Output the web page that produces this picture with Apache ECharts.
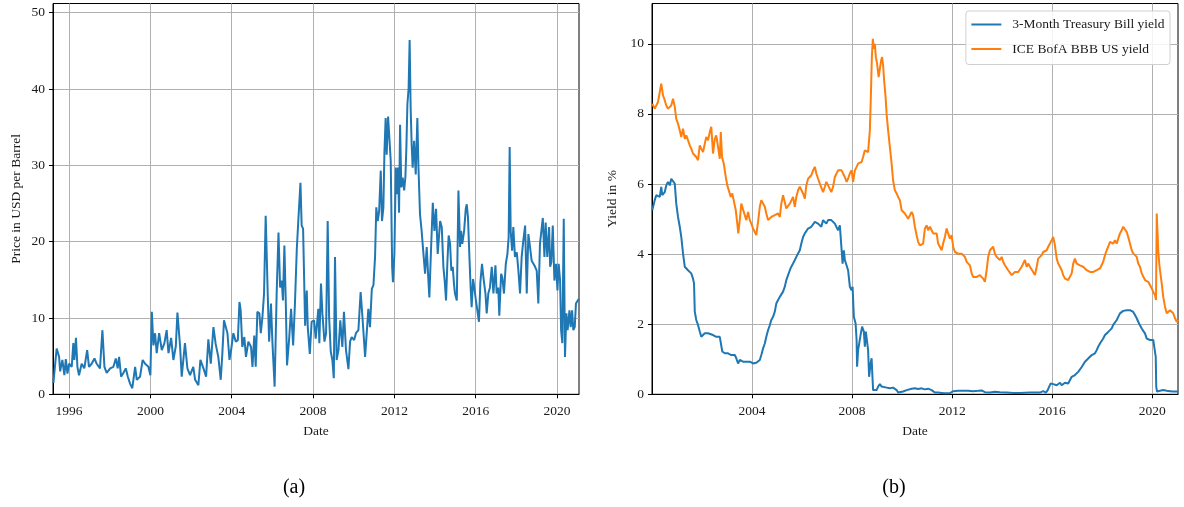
<!DOCTYPE html>
<html>
<head>
<meta charset="utf-8">
<script src="https://cdn.jsdelivr.net/npm/echarts@6/dist/echarts.min.js"></script>
<style>
  html, body { margin: 0; background: #fff; }
  #chart { width: 1184px; height: 507px; }
</style>
</head>
<body>
<div id="chart"></div>
<script>
// (a) price series, decimal years
const priceDates = [
  1995.23, 1995.39, 1995.51, 1995.56, 1995.67, 1995.77, 1995.84, 1995.92,
  1996.00, 1996.13, 1996.21, 1996.26, 1996.34, 1996.41, 1996.49, 1996.62, 1996.75, 1996.89, 1996.98,
  1997.11, 1997.25, 1997.36, 1997.52, 1997.64, 1997.74, 1997.85,
  1998.02, 1998.18, 1998.30, 1998.39, 1998.46, 1998.56, 1998.67, 1998.79, 1998.89,
  1999.00, 1999.11, 1999.25, 1999.33, 1999.49, 1999.62, 1999.74, 1999.90,
  2000.00, 2000.07, 2000.15, 2000.23, 2000.31, 2000.43, 2000.56, 2000.69, 2000.80, 2000.89,
  2001.02, 2001.13, 2001.25, 2001.33, 2001.46, 2001.54, 2001.70, 2001.82, 2001.95,
  2002.11, 2002.20, 2002.36, 2002.46, 2002.61, 2002.74, 2002.85, 2002.97,
  2003.10, 2003.21, 2003.34, 2003.46, 2003.54, 2003.62, 2003.79, 2003.89, 2003.97,
  2004.08, 2004.20, 2004.30, 2004.38, 2004.44, 2004.52, 2004.62, 2004.70, 2004.82, 2004.95,
  2005.02, 2005.11, 2005.18, 2005.26, 2005.36, 2005.43, 2005.51, 2005.59, 2005.67, 2005.72, 2005.77, 2005.84, 2005.93,
  2006.00, 2006.11, 2006.21, 2006.30, 2006.38, 2006.46, 2006.52, 2006.59, 2006.66, 2006.72, 2006.82, 2006.92,
  2007.02, 2007.11, 2007.20, 2007.28, 2007.38, 2007.44, 2007.51, 2007.61, 2007.69, 2007.74, 2007.84, 2007.93,
  2008.05, 2008.13, 2008.26, 2008.31, 2008.39, 2008.46, 2008.56, 2008.64, 2008.72, 2008.79, 2008.87, 2008.95,
  2009.02, 2009.08, 2009.16, 2009.25, 2009.34, 2009.44, 2009.52, 2009.62, 2009.74, 2009.82, 2009.90,
  2010.02, 2010.11, 2010.23, 2010.34, 2010.43, 2010.56, 2010.64, 2010.72, 2010.80, 2010.89, 2010.97,
  2011.05, 2011.11, 2011.18, 2011.25, 2011.33, 2011.39, 2011.46, 2011.51, 2011.57, 2011.62, 2011.69, 2011.75, 2011.82, 2011.89, 2011.93,
  2012.00, 2012.07, 2012.13, 2012.18, 2012.23, 2012.28, 2012.34, 2012.41, 2012.48, 2012.54, 2012.59, 2012.64, 2012.70, 2012.75, 2012.80, 2012.85, 2012.90, 2012.97,
  2013.05, 2013.13, 2013.18, 2013.26, 2013.34, 2013.43, 2013.51, 2013.59, 2013.66, 2013.72, 2013.80, 2013.89, 2013.97,
  2014.05, 2014.13,
  2014.25, 2014.33, 2014.41, 2014.48, 2014.54, 2014.61, 2014.67, 2014.74, 2014.80, 2014.87, 2014.93, 2014.98,
  2015.07, 2015.15, 2015.23, 2015.28, 2015.34, 2015.43, 2015.51, 2015.56, 2015.62, 2015.69, 2015.75, 2015.80, 2015.87, 2015.93,
  2016.00, 2016.08, 2016.16, 2016.23, 2016.31, 2016.38, 2016.48, 2016.54, 2016.62, 2016.70, 2016.79, 2016.87, 2016.97,
  2017.03, 2017.11, 2017.16, 2017.25, 2017.31, 2017.39, 2017.48, 2017.56, 2017.62, 2017.67, 2017.72, 2017.79, 2017.85, 2017.93,
  2018.02, 2018.10, 2018.18, 2018.26, 2018.34, 2018.43, 2018.51, 2018.59, 2018.67, 2018.75, 2018.84, 2018.92,
  2019.00, 2019.08, 2019.16, 2019.23, 2019.30, 2019.38, 2019.44, 2019.52, 2019.61, 2019.66, 2019.72, 2019.79, 2019.87, 2019.95,
  2020.02, 2020.08, 2020.15, 2020.20, 2020.26, 2020.33, 2020.39, 2020.46, 2020.52, 2020.61, 2020.67, 2020.74, 2020.80, 2020.87, 2020.93, 2021.02, 2021.08
];
const priceUsd = [
  1.5, 6.0, 4.9, 3.0, 4.5, 2.5, 4.6, 2.7,
  4.0, 3.6, 6.7, 4.5, 7.4, 3.6, 2.5, 4.0, 3.4, 5.8, 3.6,
  4.0, 4.7, 4.0, 3.4, 8.4, 3.6, 2.8,
  3.4, 3.6, 4.7, 3.4, 4.9, 2.3, 2.8, 3.4, 2.3,
  1.4, 0.8, 3.6, 1.9, 2.3, 4.5, 4.0, 3.6,
  2.5, 10.8, 6.4, 8.0, 5.4, 8.0, 5.8, 6.7, 8.4, 5.4,
  7.4, 4.5, 6.3, 10.7, 6.3, 2.3, 6.7, 3.4, 2.5,
  3.6, 1.9, 1.2, 4.5, 3.4, 2.3, 7.2, 4.0,
  8.8, 6.6, 4.9, 1.9, 5.4, 9.7, 8.0, 4.5, 5.8,
  8.0, 6.9, 7.1, 12.1, 11.0, 6.2, 7.5, 4.9, 6.9, 6.2,
  3.6, 7.7, 3.6, 10.8, 10.6, 8.0, 10.1, 13.2, 23.4, 23.2, 13.2, 6.9, 11.9,
  6.9, 1.0, 13.2, 21.2, 14.0, 14.9, 12.3, 19.5, 11.9, 3.8, 7.1, 11.2,
  6.4, 11.9, 19.0, 23.0, 27.7, 22.1, 21.7, 9.0, 13.6, 8.8, 5.3, 9.5,
  9.7, 7.3, 11.2, 6.7, 14.5, 10.6, 6.9, 8.0, 22.7, 10.1, 5.6, 4.5,
  2.1, 18.0, 4.5, 5.8, 9.7, 6.2, 10.8, 5.8, 3.3, 6.9, 7.5,
  7.1, 8.0, 8.4, 13.4, 10.1, 4.9, 4.7, 11.2, 8.8, 13.8, 14.3,
  18.0, 24.5, 22.7, 24.0, 29.3, 22.7, 24.5, 31.7, 36.2, 31.4, 36.4, 36.2, 30.6, 16.7, 14.7,
  18.4, 29.7, 26.2, 29.7, 23.8, 35.3, 27.1, 28.4, 26.7, 28.4, 32.3, 38.0, 40.1, 46.4, 37.5, 32.7, 29.7, 33.2,
  28.8, 36.2, 30.1, 23.6, 21.4, 18.4, 15.8, 19.3, 15.6, 12.7, 18.8, 25.1, 21.4,
  24.3, 18.4,
  22.7, 21.9, 16.7, 14.7, 12.3, 17.5, 20.8, 19.7, 16.2, 16.7, 14.5, 13.2,
  12.3, 26.7, 19.3, 21.4, 19.7, 21.4, 24.3, 24.9, 23.2, 18.0, 14.0, 11.4, 15.1, 14.0,
  12.5, 12.3, 9.5, 14.7, 17.1, 15.3, 13.2, 10.6, 13.2, 14.0, 16.7, 13.2, 16.9,
  13.2, 14.0, 10.3, 15.8, 15.3, 13.2, 17.1, 18.4, 20.6, 32.4, 21.4, 18.8, 21.9, 18.0,
  18.6, 16.2, 13.2, 18.0, 20.1, 22.1, 13.2, 21.0, 19.3, 17.5, 17.1, 16.7,
  16.2, 11.9, 19.7, 21.4, 23.1, 18.0, 22.5, 18.0, 21.9, 16.7, 17.3, 22.1, 14.9, 17.1,
  13.6, 17.1, 14.9, 8.4, 6.7, 23.0, 4.9, 10.6, 8.4, 11.0, 8.8, 11.0, 8.4, 8.8, 11.9, 12.3, 12.5
];

// (b) 3-month T-bill yield
const tbillDates = [
  2000.01, 2000.11, 2000.17, 2000.24, 2000.31, 2000.37, 2000.41, 2000.47, 2000.51, 2000.57, 2000.64, 2000.71, 2000.77, 2000.84, 2000.91, 2000.97,
  2001.04, 2001.11, 2001.17, 2001.24, 2001.31, 2001.37, 2001.44, 2001.51, 2001.57, 2001.64, 2001.68, 2001.71, 2001.77, 2001.84, 2001.91, 2001.97,
  2002.04, 2002.11, 2002.17, 2002.24, 2002.31, 2002.44, 2002.57, 2002.71, 2002.77, 2002.81, 2002.91,
  2003.04, 2003.17, 2003.31, 2003.37, 2003.44, 2003.51, 2003.64, 2003.77, 2003.91,
  2004.04, 2004.17, 2004.31, 2004.37, 2004.44, 2004.51, 2004.57, 2004.64, 2004.71, 2004.77, 2004.84, 2004.91, 2004.97,
  2005.04, 2005.11, 2005.17, 2005.24, 2005.31, 2005.37, 2005.44, 2005.51, 2005.57, 2005.64, 2005.71, 2005.77, 2005.84, 2005.91, 2005.97,
  2006.04, 2006.11, 2006.17, 2006.24, 2006.31, 2006.37, 2006.44, 2006.51, 2006.57, 2006.64, 2006.71, 2006.77, 2006.84, 2006.91, 2006.97,
  2007.04, 2007.11, 2007.17, 2007.24, 2007.31, 2007.37, 2007.44, 2007.51, 2007.58, 2007.62, 2007.67, 2007.71, 2007.78, 2007.84, 2007.91, 2007.98,
  2008.02, 2008.07, 2008.14, 2008.18, 2008.20, 2008.24, 2008.31, 2008.35, 2008.40, 2008.47, 2008.51, 2008.55, 2008.60, 2008.64, 2008.68, 2008.74, 2008.78, 2008.82, 2008.84, 2008.91, 2008.98,
  2009.04, 2009.11, 2009.18, 2009.24, 2009.38, 2009.51, 2009.64, 2009.78, 2009.84, 2009.91,
  2010.04, 2010.18, 2010.24, 2010.38, 2010.51, 2010.64, 2010.78, 2010.91,
  2011.04, 2011.18, 2011.31, 2011.44, 2011.58, 2011.71, 2011.91,
  2012.04, 2012.24, 2012.44, 2012.64, 2012.84,
  2013.04, 2013.18, 2013.31, 2013.51, 2013.71, 2013.91,
  2014.18, 2014.44, 2014.71,
  2015.11, 2015.51, 2015.64, 2015.75, 2015.82, 2015.88, 2015.94, 2015.99,
  2016.04, 2016.11, 2016.18, 2016.24, 2016.31, 2016.38, 2016.44, 2016.51, 2016.58, 2016.64, 2016.71, 2016.78, 2016.84, 2016.91, 2016.98,
  2017.04, 2017.11, 2017.18, 2017.24, 2017.31, 2017.38, 2017.44, 2017.51, 2017.58, 2017.64, 2017.71, 2017.78, 2017.84, 2017.91, 2017.98,
  2018.04, 2018.11, 2018.18, 2018.24, 2018.31, 2018.38, 2018.44, 2018.51, 2018.58, 2018.64, 2018.71, 2018.78, 2018.84, 2018.91, 2018.98,
  2019.04, 2019.11, 2019.18, 2019.24, 2019.31, 2019.38, 2019.44, 2019.51, 2019.58, 2019.64, 2019.71, 2019.78, 2019.84, 2019.91, 2019.98,
  2020.04, 2020.11, 2020.14, 2020.16, 2020.19, 2020.24, 2020.31, 2020.38, 2020.44, 2020.58, 2020.71, 2020.84, 2021.04
];
const tbillYield = [
  5.25, 5.54, 5.68, 5.73, 5.63, 5.92, 5.68, 5.73, 5.77, 5.96, 6.06, 5.96, 6.15, 6.20, 6.01, 5.44,
  5.06, 4.78, 4.49, 4.02, 3.64, 3.59, 3.54, 3.54, 3.45, 3.30, 3.16, 2.36, 2.12, 1.98, 1.79, 1.64,
  1.69, 1.74, 1.79, 1.74, 1.69, 1.69, 1.64, 1.64, 1.60, 1.22, 1.17,
  1.17, 1.12, 1.12, 1.03, 0.88, 0.98, 0.93, 0.93, 0.93,
  0.88, 0.90, 0.98, 1.12, 1.31, 1.45, 1.64, 1.83, 1.97, 2.12, 2.21, 2.36, 2.59,
  2.69, 2.78, 2.83, 2.93, 3.07, 3.26, 3.40, 3.54, 3.64, 3.73, 3.83, 3.88, 4.02, 4.11, 4.30,
  4.49, 4.59, 4.64, 4.73, 4.78, 4.78, 4.83, 4.92, 4.97, 4.87, 4.92, 4.78, 4.97, 4.92, 4.87,
  4.97, 5.01, 4.97, 4.92, 4.87, 4.78, 4.68, 4.82, 4.78, 3.73, 4.11, 3.83, 3.88, 3.54, 3.07, 2.97,
  3.07, 2.21, 2.02, 1.55, 0.79, 1.26, 1.26, 1.74, 1.93, 1.79, 1.36, 1.79, 1.74, 1.26, 0.50, 0.88, 1.03, 0.41, 0.12, 0.08, 0.12,
  0.22, 0.29, 0.22, 0.17, 0.19, 0.17, 0.19, 0.12, 0.05, 0.04,
  0.08, 0.12, 0.17, 0.16, 0.17, 0.15, 0.17, 0.14,
  0.16, 0.12, 0.05, 0.05, 0.04, 0.03, 0.03,
  0.09, 0.10, 0.10, 0.10, 0.09,
  0.10, 0.11, 0.06, 0.05, 0.07, 0.06,
  0.05, 0.04, 0.04,
  0.05, 0.05, 0.09, 0.05, 0.12, 0.22, 0.31, 0.33,
  0.29, 0.31, 0.26, 0.31, 0.33, 0.26, 0.31, 0.33, 0.33, 0.31, 0.36, 0.50, 0.55, 0.55, 0.58,
  0.64, 0.69, 0.78, 0.83, 0.93, 0.98, 1.02, 1.07, 1.12, 1.07, 1.17, 1.26, 1.36, 1.45, 1.50,
  1.59, 1.69, 1.74, 1.78, 1.83, 1.88, 1.98, 2.02, 2.12, 2.21, 2.31, 2.35, 2.38, 2.40, 2.40,
  2.38, 2.40, 2.40, 2.35, 2.26, 2.17, 2.07, 1.97, 1.88, 1.81, 1.74, 1.59, 1.55, 1.55, 1.55,
  1.55, 1.55, 1.07, 0.22, 0.08, 0.12, 0.10, 0.14, 0.12, 0.10, 0.09, 0.08, 0.08
];

// (b) ICE BofA BBB yield
const bbbDates = [
  2000.01, 2000.11, 2000.17, 2000.24, 2000.31, 2000.37, 2000.44, 2000.51, 2000.57, 2000.64, 2000.71, 2000.77, 2000.84, 2000.91, 2000.97,
  2001.04, 2001.11, 2001.17, 2001.24, 2001.31, 2001.37, 2001.44, 2001.51, 2001.57, 2001.64, 2001.71, 2001.77, 2001.84, 2001.91, 2001.97,
  2002.04, 2002.11, 2002.17, 2002.24, 2002.31, 2002.37, 2002.44, 2002.51, 2002.57, 2002.64, 2002.71, 2002.75, 2002.80, 2002.87, 2002.95,
  2003.01, 2003.08, 2003.15, 2003.21, 2003.28, 2003.35, 2003.41, 2003.45, 2003.51, 2003.57, 2003.64, 2003.71, 2003.77, 2003.84, 2003.91, 2003.97,
  2004.04, 2004.11, 2004.17, 2004.24, 2004.31, 2004.37, 2004.44, 2004.51, 2004.57, 2004.64, 2004.71, 2004.77, 2004.84, 2004.91, 2004.97,
  2005.04, 2005.11, 2005.17, 2005.24, 2005.31, 2005.37, 2005.44, 2005.51, 2005.57, 2005.64, 2005.71, 2005.77, 2005.84, 2005.91, 2005.97,
  2006.04, 2006.11, 2006.17, 2006.24, 2006.31, 2006.37, 2006.44, 2006.51, 2006.57, 2006.64, 2006.71, 2006.77, 2006.84, 2006.91, 2006.97,
  2007.04, 2007.11, 2007.17, 2007.24, 2007.31, 2007.37, 2007.44, 2007.51, 2007.58, 2007.64, 2007.71, 2007.78, 2007.84, 2007.91, 2007.98,
  2008.04, 2008.11, 2008.18, 2008.24, 2008.31, 2008.38, 2008.44, 2008.51, 2008.58, 2008.64, 2008.71, 2008.75, 2008.79, 2008.83, 2008.87, 2008.91, 2008.95,
  2009.00, 2009.06, 2009.11, 2009.16, 2009.20, 2009.24, 2009.28, 2009.34, 2009.38, 2009.44, 2009.51, 2009.58, 2009.64, 2009.71, 2009.78, 2009.84, 2009.91, 2009.98,
  2010.04, 2010.11, 2010.18, 2010.24, 2010.31, 2010.38, 2010.44, 2010.51, 2010.58, 2010.64, 2010.71, 2010.78, 2010.84, 2010.91, 2010.98,
  2011.04, 2011.11, 2011.18, 2011.24, 2011.31, 2011.38, 2011.44, 2011.51, 2011.58, 2011.64, 2011.71, 2011.78, 2011.84, 2011.91, 2011.98,
  2012.04, 2012.11, 2012.18, 2012.24, 2012.31, 2012.38, 2012.44, 2012.51, 2012.58, 2012.64, 2012.71, 2012.78, 2012.84, 2012.91, 2012.98,
  2013.04, 2013.11, 2013.18, 2013.24, 2013.31, 2013.38, 2013.44, 2013.51, 2013.58, 2013.64, 2013.71, 2013.78, 2013.84, 2013.91, 2013.98,
  2014.04, 2014.11, 2014.18, 2014.24, 2014.31, 2014.38, 2014.44, 2014.51, 2014.58, 2014.64, 2014.71, 2014.78, 2014.84, 2014.91, 2014.98,
  2015.04, 2015.11, 2015.18, 2015.24, 2015.31, 2015.38, 2015.44, 2015.51, 2015.58, 2015.64, 2015.71, 2015.78, 2015.84, 2015.91, 2015.98,
  2016.04, 2016.11, 2016.18, 2016.24, 2016.31, 2016.38, 2016.44, 2016.51, 2016.58, 2016.64, 2016.71, 2016.78, 2016.84, 2016.91, 2016.98,
  2017.04, 2017.11, 2017.18, 2017.24, 2017.31, 2017.38, 2017.44, 2017.51, 2017.58, 2017.64, 2017.71, 2017.78, 2017.84, 2017.91, 2017.98,
  2018.04, 2018.11, 2018.18, 2018.24, 2018.31, 2018.38, 2018.44, 2018.51, 2018.58, 2018.64, 2018.71, 2018.78, 2018.84, 2018.91, 2018.98,
  2019.04, 2019.11, 2019.18, 2019.24, 2019.31, 2019.38, 2019.44, 2019.51, 2019.58, 2019.64, 2019.71, 2019.78, 2019.84, 2019.91, 2019.98,
  2020.04, 2020.11, 2020.15, 2020.18, 2020.22, 2020.24, 2020.28, 2020.31, 2020.38, 2020.44, 2020.51, 2020.58, 2020.64, 2020.71, 2020.78, 2020.84, 2020.91, 2020.98, 2021.04
];
const bbbYield = [
  8.29, 8.15, 8.20, 8.34, 8.29, 8.86, 8.53, 8.39, 8.24, 8.15, 8.20, 8.24, 8.43, 8.20, 7.86,
  7.72, 7.53, 7.34, 7.58, 7.29, 7.39, 7.34, 7.10, 7.01, 6.87, 6.91, 6.77, 6.68, 7.10, 7.01,
  6.91, 7.15, 7.34, 7.25, 7.48, 7.63, 6.87, 7.29, 7.39, 7.06, 6.72, 7.48, 6.77, 6.58, 6.20,
  5.96, 5.92, 5.63, 5.73, 5.49, 5.25, 4.87, 4.59, 4.97, 5.44, 5.49, 5.11, 4.97, 5.20, 4.97, 4.87,
  4.73, 4.68, 4.54, 4.92, 5.35, 5.54, 5.49, 5.35, 5.16, 4.97, 4.92, 5.06, 5.01, 5.11, 5.11,
  5.16, 5.06, 5.44, 5.68, 5.68, 5.30, 5.25, 5.44, 5.44, 5.63, 5.35, 5.63, 5.82, 5.92, 5.87,
  5.73, 5.58, 5.96, 6.15, 6.20, 6.25, 6.39, 6.49, 6.30, 6.15, 6.01, 6.06, 5.77, 5.92, 6.06,
  5.96, 6.01, 5.77, 5.92, 6.20, 6.15, 6.39, 6.34, 6.39, 6.30, 6.20, 6.06, 6.15, 6.30, 6.39,
  6.06, 6.39, 6.49, 6.58, 6.53, 6.63, 6.77, 6.96, 7.01, 6.91, 7.53, 8.48, 9.62, 10.14, 9.86, 10.00, 9.62,
  9.43, 9.05, 9.00, 9.52, 9.62, 9.38, 8.96, 8.48, 8.00, 7.53, 7.06, 6.58, 6.10, 5.82, 5.73, 5.63, 5.54, 5.25,
  5.20, 5.16, 5.16, 5.01, 4.97, 5.20, 5.11, 4.78, 4.54, 4.35, 4.25, 4.30, 4.30, 4.73, 4.82,
  4.68, 4.78, 4.68, 4.59, 4.54, 4.59, 4.30, 4.30, 4.11, 4.30, 4.49, 4.73, 4.59, 4.44, 4.54,
  4.21, 4.06, 4.11, 4.01, 4.06, 4.01, 4.06, 3.92, 3.78, 3.73, 3.68, 3.45, 3.35, 3.35, 3.35,
  3.40, 3.40, 3.45, 3.30, 3.21, 3.54, 3.92, 4.11, 4.06, 4.21, 4.01, 3.92, 3.97, 3.83, 3.92,
  3.78, 3.68, 3.64, 3.54, 3.49, 3.40, 3.45, 3.49, 3.45, 3.49, 3.54, 3.64, 3.59, 3.83, 3.64,
  3.73, 3.64, 3.59, 3.49, 3.40, 3.64, 3.87, 3.92, 3.97, 4.06, 4.01, 4.11, 4.21, 4.30, 4.40,
  4.49, 4.25, 3.87, 3.73, 3.64, 3.54, 3.40, 3.30, 3.26, 3.26, 3.30, 3.45, 3.73, 3.87, 3.73,
  3.78, 3.68, 3.73, 3.64, 3.59, 3.54, 3.54, 3.49, 3.45, 3.49, 3.49, 3.54, 3.59, 3.59, 3.64,
  3.78, 3.97, 4.11, 4.21, 4.35, 4.40, 4.30, 4.40, 4.30, 4.44, 4.59, 4.68, 4.78, 4.73, 4.63,
  4.49, 4.30, 4.11, 4.02, 3.97, 3.92, 3.73, 3.64, 3.45, 3.40, 3.26, 3.30, 3.21, 3.16, 3.02,
  2.92, 2.83, 2.69, 5.16, 5.16, 4.11, 3.73, 3.54, 3.16, 2.78, 2.50, 2.31, 2.36, 2.40, 2.40, 2.31, 2.17, 2.07, 2.12
];

// tick labels
const priceYearTicks = [1996, 2000, 2004, 2008, 2012, 2016, 2020];
const yieldYearTicks = [2004, 2008, 2012, 2016, 2020];
const priceTicks = [0, 10, 20, 30, 40, 50];
const yieldTicks = [0, 2, 4, 6, 8, 10];

const FONT = '"Liberation Serif", "DejaVu Serif", serif';
const TEXT = '#1a1a1a';
const FS = 13.5;

const zip = (xs, ys) => xs.map((x, i) => [x, ys[i]]);

const xAxisBase = (gridIndex, min, max, ticks) => ({
  type: 'value',
  gridIndex,
  min,
  max,
  name: 'Date',
  nameLocation: 'middle',
  nameGap: 30,
  nameTextStyle: { fontFamily: FONT, fontSize: FS, color: TEXT },
  axisLine: { show: true, onZero: false, lineStyle: { color: '#000', width: 1 } },
  axisTick: { show: true, length: 4, customValues: ticks, lineStyle: { color: '#000' } },
  axisLabel: {
    customValues: ticks,
    margin: 10,
    fontFamily: FONT,
    fontSize: FS,
    color: TEXT,
    formatter: (v) => String(Math.round(v))
  },
  splitLine: { show: true, lineStyle: { color: '#b0b0b0', width: 1 } }
})

const yAxisBase = (gridIndex, max, ticks, name, nameGap) => ({
  type: 'value',
  gridIndex,
  min: 0,
  max,
  name,
  nameLocation: 'middle',
  nameGap,
  nameTextStyle: { fontFamily: FONT, fontSize: FS, color: TEXT },
  axisLine: { show: true, lineStyle: { color: '#000', width: 1 } },
  axisTick: { show: true, length: 4, customValues: ticks, lineStyle: { color: '#000' } },
  axisLabel: { customValues: ticks, margin: 8, fontFamily: FONT, fontSize: FS, color: TEXT },
  splitLine: { show: true, lineStyle: { color: '#b0b0b0', width: 1 } }
})

const lineSeries = (name, xIdx, data, color) => ({
  name,
  type: 'line',
  xAxisIndex: xIdx,
  yAxisIndex: xIdx,
  data,
  symbol: 'none',
  showSymbol: false,
  clip: true,
  lineStyle: { color, width: 2 },
  itemStyle: { color },
  emphasis: { disabled: true }
})

const chart = echarts.init(document.getElementById('chart'))
chart.setOption({
  animation: false,
  backgroundColor: '#fff',
  grid: [
    { left: 53, right: 605, top: 3.5, bottom: 112.7, show: true, borderColor: '#000', borderWidth: 1 },
    { left: 652, right: 6, top: 3.5, bottom: 112.7, show: true, borderColor: '#000', borderWidth: 1 }
  ],
  xAxis: [
    xAxisBase(0, 1995.21, 2021.08, priceYearTicks),
    xAxisBase(1, 2000.0, 2021.03, yieldYearTicks)
  ],
  yAxis: [
    yAxisBase(0, 51.2, priceTicks, 'Price in USD per Barrel', 30),
    yAxisBase(1, 11.15, yieldTicks, 'Yield in %', 33)
  ],
  legend: {
    data: ['3-Month Treasury Bill yield', 'ICE BofA BBB US yield'],
    orient: 'vertical',
    right: 14,
    top: 11,
    icon: 'rect',
    itemWidth: 30,
    itemHeight: 2,
    itemGap: 10.5,
    padding: [6.5, 5.5, 8.5, 5.5],
    backgroundColor: 'rgba(255,255,255,0.85)',
    borderColor: '#d0d0d0',
    borderWidth: 1,
    borderRadius: 3,
    textStyle: { fontFamily: FONT, fontSize: FS, lineHeight: 14, color: TEXT, padding: [0, 0, 0, 6] }
  },
  graphic: [
    { type: 'text', x: 294, y: 488, style: { text: '(a)', fontFamily: FONT, fontSize: 20, fill: '#000', align: 'center', verticalAlign: 'middle' } },
    { type: 'text', x: 894, y: 488, style: { text: '(b)', fontFamily: FONT, fontSize: 20, fill: '#000', align: 'center', verticalAlign: 'middle' } }
  ],
  series: [
    lineSeries('Price', 0, zip(priceDates, priceUsd), '#1f77b4'),
    lineSeries('3-Month Treasury Bill yield', 1, zip(tbillDates, tbillYield), '#1f77b4'),
    lineSeries('ICE BofA BBB US yield', 1, zip(bbbDates, bbbYield), '#ff7f0e')
  ]
})
</script>
</body>
</html>
